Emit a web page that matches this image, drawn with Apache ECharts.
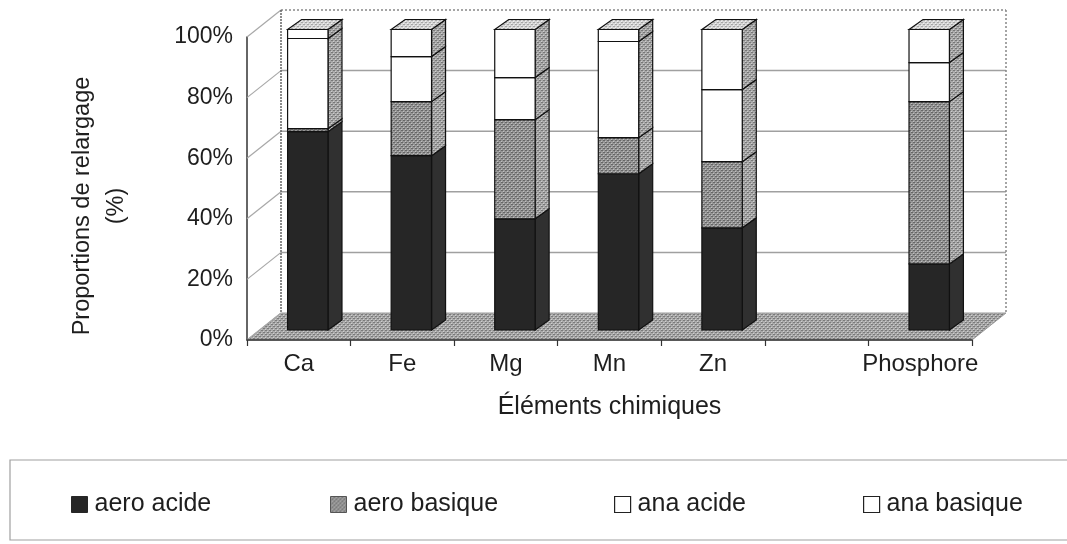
<!DOCTYPE html>
<html>
<head>
<meta charset="utf-8">
<script src="https://cdn.jsdelivr.net/npm/echarts@6/dist/echarts.min.js"></script>
<style>
  html, body { margin: 0; padding: 0; background: #fff; }
  #chart { width: 1067px; height: 544px; }
</style>
</head>
<body>
<div id="chart"></div>
<script>
// Release proportions (%) per chemical element, four conditions stacked to 100 %.
const CATEGORIES   = ['Ca', 'Fe', 'Mg', 'Mn', 'Zn', '', 'Phosphore'];
const AERO_ACIDE   = [66, 58, 37, 52, 34, null, 22];
const AERO_BASIQUE = [1, 18, 33, 12, 22, null, 54];
const ANA_ACIDE    = [30, 15, 14, 32, 24, null, 13];
const ANA_BASIQUE  = [3, 9, 16, 4, 20, null, 11];
const SERIES_NAMES = ['aero acide', 'aero basique', 'ana acide', 'ana basique'];
const Y_TICKS      = [0, 20, 40, 60, 80, 100];

const FONT = '"Liberation Sans", Arial, sans-serif';
const DEPTH = [34, -27];      // offset from the front plane to the back wall
const BAR_DEPTH = [14, -10];  // visible depth of each column
const BAR_RATIO = 0.39;

// small stippled fills in the manner of a print halftone
function stipple(base, dark, light) {
  const c = document.createElement('canvas');
  c.width = 4; c.height = 4;
  const g = c.getContext('2d');
  g.fillStyle = base; g.fillRect(0, 0, 4, 4);
  g.fillStyle = dark;
  [[0, 0], [2, 2], [3, 0], [1, 2]].forEach(p => g.fillRect(p[0], p[1], 1, 1));
  g.fillStyle = light;
  [[1, 1], [3, 3]].forEach(p => g.fillRect(p[0], p[1], 1, 1));
  return { image: c, repeat: 'repeat' };
}
const GREY_FILL  = stipple('#969696', '#666666', '#c0c0c0');
const SIDE_FILL  = stipple('#a8a8a8', '#777777', '#cdcdcd');
const TOP_FILL   = stipple('#d6d6d6', '#a6a6a6', '#f0f0f0');
const FLOOR_FILL = stipple('#a9a9a9', '#7a7a7a', '#cfcfcf');

const FACES = [
  { front: '#262626', side: '#303030' },
  { front: GREY_FILL, side: SIDE_FILL },
  { front: '#ffffff', side: SIDE_FILL },
  { front: '#ffffff', side: SIDE_FILL }
];

// stack the four arrays into [category, low, high, isTop] items
const VALUES = [AERO_ACIDE, AERO_BASIQUE, ANA_ACIDE, ANA_BASIQUE];
const stacked = VALUES.map(() => []);
CATEGORIES.forEach((c, i) => {
  let base = 0;
  VALUES.forEach((arr, s) => {
    if (arr[i] == null) return;
    const top = base + arr[i];
    stacked[s].push([i, base, top, s === VALUES.length - 1 ? 1 : 0]);
    base = top;
  });
});

const EDGE = { stroke: '#111', lineWidth: 1.2 };

function segmentRenderer(faces) {
  return function (params, api) {
    const cat = api.value(0), lo = api.value(1), hi = api.value(2), isTop = api.value(3);
    const pLo = api.coord([cat, lo]);
    const pHi = api.coord([cat, hi]);
    const w = api.size([1, 0])[0] * BAR_RATIO;
    const x0 = pLo[0] - w / 2, x1 = pLo[0] + w / 2;
    const yLo = pLo[1], yHi = pHi[1];
    const dx = BAR_DEPTH[0], dy = BAR_DEPTH[1];
    const children = [
      { type: 'polygon', shape: { points: [[x1, yHi], [x1 + dx, yHi + dy], [x1 + dx, yLo + dy], [x1, yLo]] },
        style: Object.assign({ fill: faces.side }, EDGE) },
      { type: 'rect', shape: { x: x0, y: yHi, width: w, height: yLo - yHi },
        style: Object.assign({ fill: faces.front }, EDGE) }
    ];
    if (isTop) {
      children.push({ type: 'polygon',
        shape: { points: [[x0, yHi], [x0 + dx, yHi + dy], [x1 + dx, yHi + dy], [x1, yHi]] },
        style: Object.assign({ fill: TOP_FILL }, EDGE) });
    }
    return { type: 'group', children };
  };
}

function shift(p) { return [p[0] + DEPTH[0], p[1] + DEPTH[1]]; }

// floor of the 3D box
function renderFloor(params, api) {
  const a = api.coord([0, 0]), b = api.coord([1, 0]);
  return { type: 'polygon', shape: { points: [a, b, shift(b), shift(a)] },
           style: { fill: FLOOR_FILL, stroke: '#9a9a9a', lineWidth: 1 } };
}
// back wall gridlines and the slanted lines on the left wall
function renderWallLines(params, api) {
  const v = api.value(0);
  const a = api.coord([0, v]), b = api.coord([1, v]);
  const children = [
    { type: 'line', shape: { x1: a[0], y1: a[1], x2: shift(a)[0], y2: shift(a)[1] },
      style: { stroke: '#a8a8a8', lineWidth: 1.2 } }
  ];
  if (v > 0 && v < 100) {
    children.push({ type: 'line', shape: { x1: shift(a)[0], y1: shift(a)[1], x2: shift(b)[0], y2: shift(b)[1] },
      style: { stroke: '#a0a0a0', lineWidth: 1.5 } });
  }
  return { type: 'group', children };
}
// outline of the back wall
function renderWallFrame(params, api) {
  const tl = shift(api.coord([0, 100])), tr = shift(api.coord([1, 100]));
  const bl = shift(api.coord([0, 0])), br = shift(api.coord([1, 0]));
  const dotted = { stroke: '#888', lineWidth: 1.5, lineDash: [2, 2] };
  return { type: 'group', children: [
    { type: 'line', shape: { x1: tl[0], y1: tl[1], x2: tr[0], y2: tr[1] }, style: dotted },
    { type: 'line', shape: { x1: tr[0], y1: tr[1], x2: br[0], y2: br[1] }, style: dotted },
    { type: 'line', shape: { x1: tl[0], y1: tl[1], x2: bl[0], y2: bl[1] }, style: { stroke: '#666', lineWidth: 1.5, lineDash: [2, 1] } }
  ] };
}

const legendIcons = [
  { color: '#262626', borderColor: '#262626', borderWidth: 1 },
  { color: GREY_FILL, borderColor: '#555', borderWidth: 1 },
  { color: '#ffffff', borderColor: '#222', borderWidth: 1.2 },
  { color: '#ffffff', borderColor: '#222', borderWidth: 1.2 }
];
const LEGEND_LEFT = [71, 330, 614, 863];

const chart = echarts.init(document.getElementById('chart'), null, { renderer: 'canvas' });

chart.setOption({
  backgroundColor: '#ffffff',
  animation: false,
  textStyle: { fontFamily: FONT },
  grid: [
    { left: 247, right: 95, top: 37, bottom: 204 },     // front plane (axes)
    { left: 256, right: 86, top: 29.5, bottom: 214 }    // front faces of the columns
  ],
  xAxis: [
    { type: 'category', gridIndex: 0, data: CATEGORIES, boundaryGap: true,
      axisLine: { lineStyle: { color: '#333', width: 1.5 } },
      axisTick: { show: true, interval: 0, length: 6, lineStyle: { color: '#333', width: 1.2 } },
      axisLabel: { interval: 0, fontSize: 24, color: '#1e1e1e', margin: 12, fontFamily: FONT },
      name: 'Éléments chimiques', nameLocation: 'middle', nameGap: 55,
      nameTextStyle: { fontSize: 25, color: '#1e1e1e', fontFamily: FONT },
      z: 5 },
    { type: 'category', gridIndex: 1, data: CATEGORIES, show: false },
    { type: 'value', gridIndex: 0, min: 0, max: 1, show: false, position: 'top' }
  ],
  yAxis: [
    { type: 'value', gridIndex: 0, min: 0, max: 100, interval: 20,
      axisLine: { show: true, lineStyle: { color: '#333', width: 1.5 } },
      axisTick: { show: false },
      splitLine: { show: false },
      axisLabel: { formatter: '{value}%', fontSize: 23, color: '#1e1e1e', margin: 14, fontFamily: FONT } },
    { type: 'value', gridIndex: 1, min: 0, max: 100, interval: 20, show: false }
  ],
  legend: SERIES_NAMES.map((n, i) => ({
    data: [{ name: n, itemStyle: legendIcons[i] }],
    left: LEGEND_LEFT[i], top: 492, padding: 0,
    icon: 'rect', itemWidth: 16, itemHeight: 16, selectedMode: false,
    textStyle: { fontSize: 25, color: '#1e1e1e', fontFamily: FONT, padding: [0, 0, 0, 2] }
  })),
  graphic: [
    { type: 'text', x: 100, y: 206, rotation: Math.PI / 2,
      style: { text: 'Proportions de relargage\n(%)', fontSize: 23.5, fontFamily: FONT, fill: '#1e1e1e',
               align: 'center', verticalAlign: 'middle', lineHeight: 34 } },
    { type: 'rect', shape: { x: 10, y: 460, width: 1100, height: 80 },
      style: { fill: 'none', stroke: '#a0a0a0', lineWidth: 1.2 }, z: -1 }
  ],
  series: [
    { type: 'custom', name: 'floor', xAxisIndex: 2, yAxisIndex: 0, data: [[0]],
      renderItem: renderFloor, silent: true, z: 1 },
    { type: 'custom', name: 'walls', xAxisIndex: 2, yAxisIndex: 0, data: Y_TICKS.map(v => [v]),
      renderItem: renderWallLines, silent: true, z: 1 },
    { type: 'custom', name: 'frame', xAxisIndex: 2, yAxisIndex: 0, data: [[0]],
      renderItem: renderWallFrame, silent: true, z: 1 }
  ].concat(SERIES_NAMES.map((n, s) => ({
    type: 'custom', name: n, xAxisIndex: 1, yAxisIndex: 1,
    data: stacked[s], renderItem: segmentRenderer(FACES[s]),
    itemStyle: { color: s === 0 ? '#262626' : (s === 1 ? '#969696' : '#ffffff') },
    encode: { x: 0, y: [1, 2] },
    z: 3
  })))
});
</script>
</body>
</html>
